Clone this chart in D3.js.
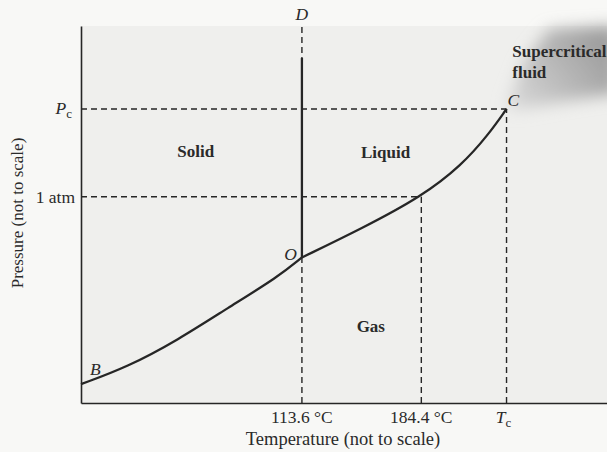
<!DOCTYPE html>
<html><head><meta charset="utf-8">
<script src="https://cdn.jsdelivr.net/npm/d3@7/dist/d3.min.js"></script>
<style>html,body{margin:0;padding:0;background:#f7f7f5;}svg{display:block;}</style>
</head><body>
<script>
// Phase diagram (not to scale) — arbitrary units 0..100 on both axes
const sublimationCurve = [[0,5.0],[8.9,9.6],[18.4,16.7],[27.9,25.2],[37.5,33.5],[42.0,38.6]];
const vaporCurve = [[42.0,38.6],[53.4,46.3],[64.7,54.7],[72.4,63.1],[77.4,71.1],[80.9,78.0]];
const meltingLine = [[42.0,38.6],[42.0,91.5]];
const tripleT = 42.0, boilT = 64.7, critT = 80.9;
const oneAtm = 54.7, critP = 78.0, dTop = 100.3;
const xTickLabels = ["113.6 °C","184.4 °C","Tc"];
const xTickValues = [tripleT, boilT, critT];
const yTickLabels = ["1 atm","Pc"];
const yTickValues = [oneAtm, critP];
const regionLabels = ["Solid","Liquid","Gas"];

const W=607,H=452;
const svg=d3.select("body").append("svg").attr("width",W).attr("height",H);
const x=d3.scaleLinear().domain([0,100]).range([81,607]);
const y=d3.scaleLinear().domain([0,100]).range([403,26]);

const defs=svg.append("defs");
const f=defs.append("filter").attr("id","blur").attr("x","-50%").attr("y","-50%").attr("width","200%").attr("height","200%");
f.append("feGaussianBlur").attr("stdDeviation",8);
const lg=defs.append("linearGradient").attr("id","sc").attr("gradientUnits","userSpaceOnUse")
  .attr("x1",x(critT)).attr("y1",y(critP)).attr("x2",x(99)).attr("y2",y(97));
lg.append("stop").attr("offset","0").attr("stop-color","#dcdcdc");
lg.append("stop").attr("offset","0.55").attr("stop-color","#b8b8b8");
lg.append("stop").attr("offset","1").attr("stop-color","#9c9c9c");

svg.append("rect").attr("width",W).attr("height",H).attr("fill","#f8f8f6");
svg.append("rect").attr("x",x(0)).attr("y",y(100)).attr("width",x(100)-x(0)).attr("height",y(0)-y(100)).attr("fill","#efefed");

// supercritical shading
const wedge=[[critT,critP],[84,90],[89,99],[102,100],[102,82],[92,80],[84,78]];
svg.append("path").attr("d",d3.line().x(d=>x(d[0])).y(d=>y(d[1])).curve(d3.curveLinearClosed)(wedge))
  .attr("fill","url(#sc)").attr("filter","url(#blur)");

const ink="#262626";
function dline(x1,y1,x2,y2){svg.append("line").attr("x1",x(x1)).attr("y1",y(y1)).attr("x2",x(x2)).attr("y2",y(y2))
  .attr("stroke",ink).attr("stroke-width",1.4).attr("stroke-dasharray","6,4").attr("fill","none");}
// guide lines
dline(0,critP,critT,critP);
dline(0,oneAtm,boilT,oneAtm);
dline(tripleT,0,tripleT,dTop);
dline(boilT,0,boilT,oneAtm);
dline(critT,0,critT,critP);

// axes
const xAxis=d3.axisBottom(x).tickValues(xTickValues).tickSize(0).tickFormat("");
svg.append("g").attr("transform",`translate(0,${y(0)})`).call(xAxis).call(g=>g.select(".domain").attr("stroke",ink).attr("stroke-width",1.6));
const yAxis=d3.axisLeft(y).tickValues(yTickValues).tickSize(0).tickFormat("");
svg.append("g").attr("transform",`translate(${x(0)},0)`).call(yAxis).call(g=>g.select(".domain").attr("stroke",ink).attr("stroke-width",1.6));

// curves
const line=d3.line().x(d=>x(d[0])).y(d=>y(d[1])).curve(d3.curveBasis);
[sublimationCurve,vaporCurve].forEach(c=>svg.append("path").attr("d",line(c)).attr("fill","none").attr("stroke",ink).attr("stroke-width",2.3));
svg.append("path").attr("d",d3.line().x(d=>x(d[0])).y(d=>y(d[1]))(meltingLine)).attr("fill","none").attr("stroke",ink).attr("stroke-width",2.3);

const font="'Liberation Serif','Times New Roman',serif";
function txt(t,px,py,anchor,opts={}){
  const e=svg.append("text").attr("x",px).attr("y",py).attr("text-anchor",anchor||"start")
    .attr("font-family",font).attr("font-size",opts.size||17.5).attr("fill",opts.fill||"#2a2a2a");
  if(opts.bold)e.attr("font-weight","bold");
  if(opts.italic)e.attr("font-style","italic");
  e.text(t);return e;
}
// x tick labels
xTickLabels.forEach((t,i)=>{
  if(t==="Tc"){
    const e=txt("",x(xTickValues[i])-3,423,"middle");
    e.append("tspan").attr("font-style","italic").text("T");
    e.append("tspan").attr("font-size",13).attr("dy",4).text("c");
  } else txt(t,x(xTickValues[i]),423,"middle");
});
// y tick labels
yTickLabels.forEach((t,i)=>{
  if(t==="Pc"){
    const e=txt("",x(0)-9,y(yTickValues[i])+5,"end");
    e.append("tspan").attr("font-style","italic").text("P");
    e.append("tspan").attr("font-size",13).attr("dy",4).text("c");
  } else txt(t,x(0)-6,y(yTickValues[i])+6,"end");
});
// axis titles
txt("Temperature (not to scale)",343,445,"middle",{size:18.5});
txt("Pressure (not to scale)",0,0,"middle",{size:17}).attr("transform",`translate(23,${213}) rotate(-90)`);
// region labels
txt(regionLabels[0],x(21.8),157,"middle",{bold:true,size:17});
txt(regionLabels[1],x(57.9),158,"middle",{bold:true,size:17});
txt(regionLabels[2],x(55.1),332,"middle",{bold:true,size:17});
txt("Supercritical",x(82),57,"start",{bold:true,size:17});
txt("fluid",x(82),78,"start",{bold:true,size:17});
// point labels
txt("C",x(critT)+1,y(critP)-3,"start",{italic:true});
txt("O",x(tripleT)-5,y(38.6)+3,"end",{italic:true});
txt("B",x(1.7),375,"start",{italic:true});
txt("D",x(tripleT),20,"middle",{italic:true});
</script>
</body></html>
